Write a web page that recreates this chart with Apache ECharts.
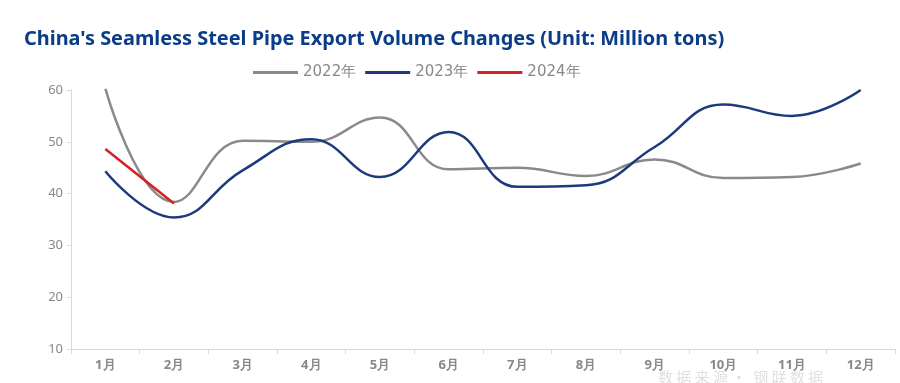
<!DOCTYPE html>
<html><head><meta charset="utf-8">
<script src="https://cdn.jsdelivr.net/npm/echarts@6/dist/echarts.min.js"></script>
<style>html,body{margin:0;padding:0;background:#fff}#c{width:900px;height:383px}</style>
</head><body><div id="c"></div>
<script>
const categories = ['1月','2月','3月','4月','5月','6月','7月','8月','9月','10月','11月','12月'];
const s2022 = [60.3, 38.4, 50.2, 50.0, 54.7, 44.7, 45.0, 43.4, 46.6, 43.0, 43.2, 45.8];
const s2023 = [44.3, 35.4, 44.5, 50.5, 43.2, 51.9, 41.3, 41.6, 49.0, 57.2, 55.0, 60.0];
const s2024 = [48.6, 38.1];
const yTicks = [10, 20, 30, 40, 50, 60];
const chart = echarts.init(document.getElementById('c'));
const mk = (name, data, color) => ({
  name, type: 'line', data, smooth: 0.45, symbol: 'none', clip: true,
  lineStyle: { color, width: 2.5 }, itemStyle: { color }
});
chart.setOption({
  animation: false,
  title: { text: "China's Seamless Steel Pipe Export Volume Changes (Unit: Million tons)", left: 19, top: 24,
    textStyle: { color: '#0b3c87', fontSize: 19.9, fontWeight: 'bold', fontFamily: 'Noto Sans' } },
  legend: { left: 248, top: 60, itemWidth: 45, itemHeight: 3, itemGap: 9,
    icon: 'rect', textStyle: { color: '#888', fontSize: 15, fontFamily: 'DejaVu Sans', padding: [0,0,0,0] },
    data: ['2022年','2023年','2024年'] },
  grid: { left: 71, right: 5, top: 90, bottom: 34 },
  xAxis: { type: 'category', data: categories, boundaryGap: true,
    axisLine: { lineStyle: { color: '#d9d9d9' } },
    axisTick: { show: true, lineStyle: { color: '#d9d9d9' }, length: 5 },
    axisLabel: { color: '#888', fontSize: 13, margin: 10, fontFamily: 'Noto Sans', fontWeight: 'bold' } },
  yAxis: { type: 'value', min: yTicks[0], max: yTicks[yTicks.length-1], interval: 10,
    axisLine: { show: true, lineStyle: { color: '#d9d9d9' } },
    axisTick: { show: true, lineStyle: { color: '#d9d9d9' }, length: 4 },
    splitLine: { show: false },
    axisLabel: { color: '#888', fontSize: 13, margin: 8, fontFamily: 'Noto Sans' } },
  graphic: [{ type: 'text', left: 658, top: 370,
    style: { text: '数 据 来 源 ·  钢 联 数 据', fill: '#e0e0e0', fontSize: 15, fontFamily: 'Noto Sans CJK SC' } }],
  series: [ mk('2022年', s2022, '#8a8a8a'), mk('2023年', s2023, '#1c3a7c'), mk('2024年', s2024, '#d42027') ]
});
</script></body></html>
